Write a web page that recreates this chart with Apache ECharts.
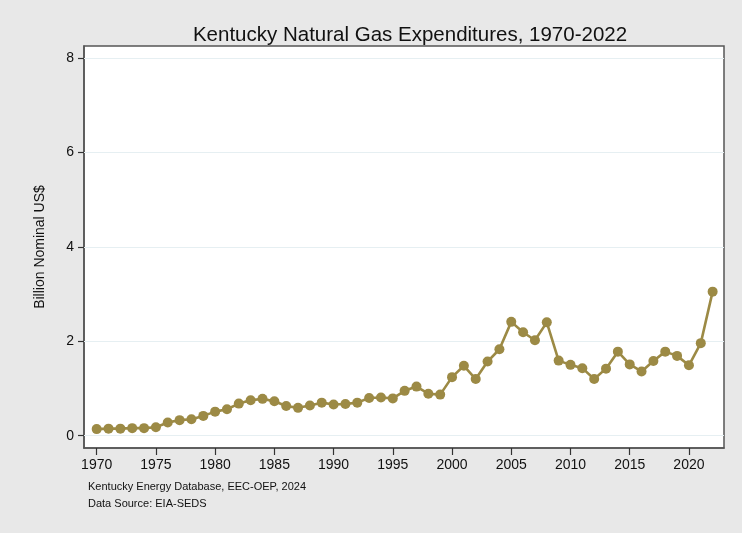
<!DOCTYPE html>
<html>
<head>
<meta charset="utf-8">
<script src="https://cdn.jsdelivr.net/npm/echarts@6/dist/echarts.min.js"></script>
<style>
	html, body { margin: 0; padding: 0; background: #ffffff; }
	#chart { width: 742px; height: 533px; background: #e8e8e8; }
</style>
</head>
<body>
<div id="chart"></div>
<script>
	// years on the x axis
	var years = [];
	for (var y = 1970; y <= 2022; y++) years.push(y);

	// billion nominal US$
	var spending = [
		0.14, 0.15, 0.15, 0.16, 0.16, 0.18, 0.28, 0.33, 0.35, 0.42,
		0.51, 0.56, 0.68, 0.75, 0.78, 0.73, 0.63, 0.59, 0.64, 0.70,
		0.66, 0.67, 0.70, 0.80, 0.81, 0.79, 0.95, 1.04, 0.89, 0.87,
		1.24, 1.48, 1.20, 1.57, 1.83, 2.41, 2.19, 2.02, 2.40, 1.59,
		1.50, 1.43, 1.20, 1.42, 1.78, 1.51, 1.36, 1.58, 1.78, 1.69,
		1.49, 1.96, 3.05
	];

	var yTicks = [0, 2, 4, 6, 8];
	var xTicks = [1970, 1975, 1980, 1985, 1990, 1995, 2000, 2005, 2010, 2015, 2020];

	var points = years.map(function (yr, i) { return [yr, spending[i]]; });

	var chart = echarts.init(document.getElementById('chart'));
	chart.setOption({
		animation: false,
		backgroundColor: '#e8e8e8',
		title: {
			text: 'Kentucky Natural Gas Expenditures, 1970-2022',
			left: 405,
			textAlign: 'center',
			top: 20,
			textStyle: {
				fontFamily: 'Liberation Sans, Arial',
				fontSize: 20.5,
				fontWeight: 'normal',
				color: '#111'
			}
		},
		graphic: [
			{
				type: 'text', left: 88, top: 481,
				style: { text: 'Kentucky Energy Database, EEC-OEP, 2024', fontFamily: 'Liberation Sans, Arial', fontSize: 11, fill: '#111' }
			},
			{
				type: 'text', left: 88, top: 498,
				style: { text: 'Data Source: EIA-SEDS', fontFamily: 'Liberation Sans, Arial', fontSize: 11, fill: '#111' }
			}
		],
		grid: {
			left: 84, top: 46, width: 640, height: 402,
			show: true,
			backgroundColor: '#ffffff',
			borderColor: '#555',
			borderWidth: 1.5
		},
		xAxis: {
			type: 'value',
			min: 1968.93,
			max: 2022.96,
			axisLine: { show: true, onZero: false, lineStyle: { color: '#555', width: 1.5 } },
			axisTick: { show: true, length: 7, lineStyle: { color: '#333', width: 1.2 }, customValues: xTicks },
			axisLabel: {
				customValues: xTicks,
				formatter: function (v) { return String(v); },
				margin: 10,
				fontFamily: 'Liberation Sans, Arial',
				fontSize: 14,
				color: '#111'
			},
			splitLine: { show: false }
		},
		yAxis: {
			type: 'value',
			min: -0.26,
			max: 8.25,
			name: 'Billion Nominal US$',
			nameLocation: 'middle',
			nameGap: 37,
			nameTextStyle: { fontFamily: 'Liberation Sans, Arial', fontSize: 14, color: '#111' },
			axisLine: { show: true, onZero: false, lineStyle: { color: '#555', width: 1.5 } },
			axisTick: { show: true, length: 6, lineStyle: { color: '#333', width: 1.2 }, customValues: yTicks },
			axisLabel: {
				customValues: yTicks,
				formatter: function (v) { return String(v); },
				margin: 10,
				fontFamily: 'Liberation Sans, Arial',
				fontSize: 14,
				color: '#111'
			},
			splitLine: { show: false }
		},
		series: [
			{
				// light grid lines at the labelled y values
				type: 'line',
				data: [],
				silent: true,
				z: 1,
				markLine: {
					silent: true,
					symbol: 'none',
					label: { show: false },
					lineStyle: { color: '#e6eff2', type: 'solid', width: 1.2 },
					data: yTicks.map(function (v) { return { yAxis: v }; })
				}
			},
			{
				name: 'Expenditures',
				type: 'line',
				z: 5,
				data: points,
				symbol: 'circle',
				symbolSize: 10,
				itemStyle: { color: '#9c8a45' },
				lineStyle: { color: '#9c8a45', width: 2.6 }
			}
		]
	});
</script>
</body>
</html>
